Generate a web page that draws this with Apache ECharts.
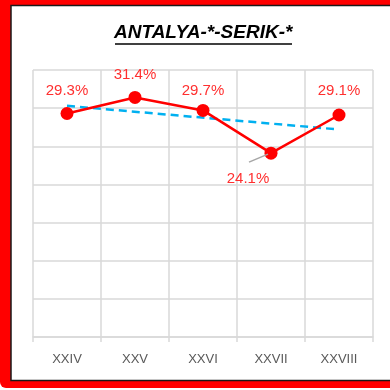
<!DOCTYPE html>
<html>
<head>
<meta charset="utf-8">
<style>
  html, body { margin: 0; padding: 0; background: #fff; }
  #chart { width: 390px; height: 390px; }
</style>
<script src="https://cdn.jsdelivr.net/npm/echarts@6/dist/echarts.min.js"></script>
</head>
<body>
<div id="chart"></div>
<script>
// Categories and observed rates (%)
var categories = ['XXIV', 'XXV', 'XXVI', 'XXVII', 'XXVIII'];
var rates = [29.3, 31.4, 29.7, 24.1, 29.1];
// Linear trend endpoints (%), first and last category
var trendValues = [30.3, '-', '-', '-', 27.2];
var yTicks = { min: 0, max: 35, interval: 5 };

var chart = echarts.init(document.getElementById('chart'), null, { renderer: 'canvas' });

// label gap above each point; the dipping point gets a pulled-out label instead
var labelGap = [9, 9, 6, 5, 10];
var pulledLabel = { index: 3, dx: -23, dy: 45 };

var rateItems = rates.map(function (v, i) {
  return { value: v, label: { distance: labelGap[i] } };
});

var frameGraphics = [
  // red frame with a dark inner edge
  { id: 'frameOuter', type: 'rect', z: -10, shape: { x: 0, y: -20, width: 420, height: 408, r: 6 }, style: { fill: '#FF0000' } },
  { id: 'frameInner', type: 'rect', z: -9, shape: { x: 11, y: 5.5, width: 420, height: 375 }, style: { fill: '#FFFFFF', stroke: '#1a1a1a', lineWidth: 1.5 } },
  // title underline
  { id: 'titleRule', type: 'line', z: 10, shape: { x1: 115, y1: 44, x2: 292, y2: 44 }, style: { stroke: '#000', lineWidth: 1.3 } }
];

var option = {
  animation: false,
  graphic: frameGraphics,
  title: {
    text: 'ANTALYA-*-SERIK-*',
    left: 114,
    top: 23,
    padding: 0,
    textStyle: {
      fontFamily: 'Liberation Sans',
      fontStyle: 'italic',
      fontWeight: 'bold',
      fontSize: 19,
      color: '#000'
    }
  },
  grid: { left: 33, right: 17, top: 70, bottom: 53 },
  xAxis: {
    type: 'category',
    data: categories,
    boundaryGap: true,
    axisLine: { lineStyle: { color: '#D9D9D9', width: 1.5 } },
    axisTick: { show: true, length: 5, lineStyle: { color: '#D9D9D9', width: 1.5 } },
    splitLine: { show: true, lineStyle: { color: '#D9D9D9', width: 1.5 } },
    axisLabel: { color: '#595959', fontFamily: 'Liberation Sans', fontSize: 13, margin: 16 }
  },
  yAxis: {
    type: 'value',
    min: yTicks.min,
    max: yTicks.max,
    interval: yTicks.interval,
    axisLabel: { show: false },
    axisLine: { show: false },
    axisTick: { show: false },
    splitLine: { lineStyle: { color: '#D9D9D9', width: 1.5 } }
  },
  series: [
    {
      type: 'line',
      data: rateItems,
      z: 3,
      symbol: 'circle',
      symbolSize: 13,
      itemStyle: { color: '#FF0000' },
      lineStyle: { color: '#FF0000', width: 2.5 },
      label: {
        show: true,
        position: 'top',
        formatter: function (p) { return p.value.toFixed(1) + '%'; },
        color: '#FF2F2F',
        fontFamily: 'Liberation Sans',
        fontSize: 15
      },
      labelLayout: function (p) {
        if (p.dataIndex === pulledLabel.index) {
          return { dx: pulledLabel.dx, dy: pulledLabel.dy };
        }
        return {};
      }
    },
    {
      type: 'line',
      data: trendValues,
      connectNulls: true,
      z: 2,
      symbol: 'none',
      lineStyle: { color: '#00B0F0', width: 2.5, type: [8, 5] },
      silent: true
    }
  ]
};

chart.setOption(option);

// leader line from the pulled-out label back to its point
var anchor = chart.convertToPixel({ seriesIndex: 0 }, [pulledLabel.index, rates[pulledLabel.index]]);
chart.setOption({
  graphic: frameGraphics.concat([{
    id: 'leader',
    type: 'line',
    z: 5,
    shape: { x1: anchor[0] - 22, y1: anchor[1] + 9, x2: anchor[0] - 3, y2: anchor[1] + 1 },
    style: { stroke: '#A6A6A6', lineWidth: 1.5 }
  }])
});
</script>
</body>
</html>
